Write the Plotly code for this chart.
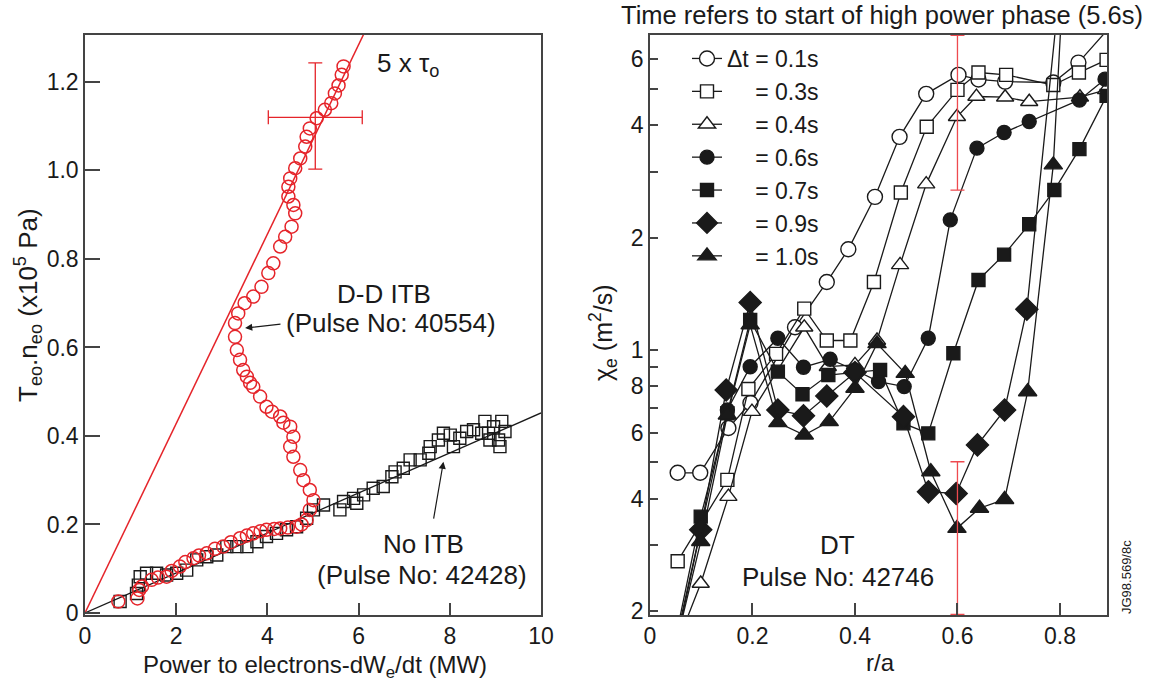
import plotly.graph_objects as go
import numpy as np

# ---------------- Left panel data ----------------
ddi_x = [0.73, 1.15, 1.19, 1.25, 1.46, 1.6, 1.79, 1.9, 2.08, 2.2, 2.38, 2.5, 2.67, 2.85, 3.03, 3.2,
         3.40, 3.55, 3.69, 3.85, 3.98, 4.15, 4.28, 4.45, 4.64, 4.75, 4.86, 4.93, 5.01, 4.93, 4.79,
         4.72, 4.57, 4.50, 4.57, 4.50, 4.35, 4.28, 4.10, 3.98, 3.84, 3.69, 3.62, 3.55, 3.47, 3.40,
         3.33, 3.29, 3.29, 3.36, 3.50, 3.69, 3.87, 4.02, 4.13, 4.28, 4.39, 4.53, 4.61, 4.57, 4.46,
         4.46, 4.50, 4.61, 4.72, 4.83, 4.86, 4.93, 5.08, 5.26, 5.40, 5.48, 5.56, 5.63, 5.67]
ddi_y = [0.026, 0.033, 0.052, 0.060, 0.075, 0.080, 0.082, 0.095, 0.105, 0.115, 0.124, 0.130, 0.135,
         0.145, 0.150, 0.160, 0.169, 0.175, 0.180, 0.185, 0.188, 0.190, 0.191, 0.193, 0.195, 0.200,
         0.210, 0.233, 0.255, 0.278, 0.300, 0.323, 0.353, 0.376, 0.398, 0.421, 0.430, 0.444, 0.455,
         0.466, 0.489, 0.511, 0.520, 0.534, 0.549, 0.572, 0.594, 0.624, 0.655, 0.677, 0.700, 0.715,
         0.737, 0.768, 0.790, 0.828, 0.850, 0.873, 0.903, 0.922, 0.941, 0.963, 0.982, 1.005, 1.027,
         1.054, 1.076, 1.095, 1.118, 1.137, 1.152, 1.174, 1.192, 1.216, 1.235]

noitb_x = [0.77, 1.13, 1.17, 1.21, 1.35, 1.57, 1.79, 2.01, 2.23, 2.45, 2.67, 2.89, 3.11, 3.33, 3.55,
           3.77, 3.98, 4.20, 4.42, 4.64, 4.86, 5.01, 5.23, 5.59, 5.67, 5.89, 5.96, 6.11, 6.32, 6.54,
           6.73, 6.80, 6.98, 7.13, 7.35, 7.54, 7.57, 7.75, 7.86, 8.01, 8.08, 8.22, 8.37, 8.52, 8.70,
           8.77, 8.85, 8.88, 8.96, 9.07, 9.10, 9.14, 9.21]
noitb_y = [0.026, 0.044, 0.063, 0.082, 0.090, 0.090, 0.086, 0.090, 0.097, 0.120, 0.127, 0.131, 0.150,
           0.150, 0.150, 0.161, 0.173, 0.180, 0.188, 0.195, 0.214, 0.233, 0.244, 0.233, 0.252, 0.259,
           0.248, 0.267, 0.282, 0.286, 0.308, 0.319, 0.327, 0.346, 0.346, 0.361, 0.376, 0.391, 0.406,
           0.402, 0.376, 0.395, 0.410, 0.414, 0.406, 0.433, 0.406, 0.391, 0.421, 0.391, 0.376, 0.433,
           0.410]

tau5_slope = 0.214      # 5 x tau_o line
noitb_slope = 0.0452    # No ITB fit line
fit_x = [0, 10]

err_left_x = [5.05]
err_left_y = [1.12]
err_left_dx = [1.03]
err_left_dy_plus = [0.123]
err_left_dy_minus = [0.117]

left_xticks = [0, 2, 4, 6, 8, 10]
left_yticks = [0, 0.2, 0.4, 0.6, 0.8, 1.0, 1.2]
left_yticktext = ["0", "0.2", "0.4", "0.6", "0.8", "1.0", "1.2"]

# ---------------- Right panel data ----------------
r_01 = [0.054, 0.098, 0.153, 0.196, 0.283, 0.345, 0.387, 0.439, 0.487, 0.539, 0.602, 0.641, 0.693, 0.787, 0.836, 0.885]
c_01 = [0.469, 0.469, 0.618, 0.721, 1.15, 1.52, 1.86, 2.57, 3.72, 4.85, 5.45, 5.30, 5.23, 5.20, 5.88, 7.0]

r_03 = [0.054, 0.151, 0.192, 0.246, 0.301, 0.345, 0.391, 0.437, 0.4895, 0.540, 0.600, 0.641, 0.695, 0.787, 0.837, 0.891]
c_03 = [0.272, 0.449, 0.786, 0.976, 1.29, 1.06, 1.06, 1.52, 2.64, 3.96, 4.97, 5.53, 5.45, 5.12, 5.53, 5.98]

r_04 = [0.054, 0.099, 0.153, 0.199, 0.301, 0.347, 0.400, 0.443, 0.488, 0.539, 0.599, 0.637, 0.693, 0.740, 0.839, 0.890]
c_04 = [0.165, 0.237, 0.405, 0.684, 1.15, 0.902, 0.912, 1.06, 1.69, 2.78, 4.21, 4.77, 4.75, 4.62, 4.75, 4.97]

r_06 = [0.054, 0.099, 0.151, 0.1955, 0.2495, 0.2995, 0.3516, 0.400, 0.446, 0.496, 0.543, 0.586, 0.638, 0.691, 0.740, 0.838, 0.888]
c_06 = [0.175, 0.331, 0.691, 0.902, 1.075, 0.899, 0.944, 0.884, 0.823, 0.798, 1.075, 2.23, 3.47, 3.82, 4.09, 4.67, 5.31]

r_07 = [0.054, 0.099, 0.151, 0.1955, 0.2495, 0.2976, 0.348, 0.449, 0.4946, 0.543, 0.592, 0.641, 0.691, 0.740, 0.789, 0.838, 0.891]
c_07 = [0.18, 0.358, 0.677, 1.203, 0.875, 0.761, 0.857, 0.884, 0.636, 0.598, 0.98, 1.54, 1.80, 2.17, 2.68, 3.45, 4.79]

r_09 = [0.054, 0.099, 0.1487, 0.1955, 0.2495, 0.2995, 0.345, 0.400, 0.4946, 0.5434, 0.5975, 0.639, 0.692, 0.7354, 0.80]
c_09 = [0.17, 0.33, 0.781, 1.34, 0.691, 0.667, 0.753, 0.87, 0.663, 0.417, 0.413, 0.557, 0.691, 1.285, 9.5]

r_10 = [0.054, 0.099, 0.151, 0.1955, 0.2495, 0.301, 0.3497, 0.400, 0.443, 0.498, 0.548, 0.599, 0.643, 0.692, 0.737, 0.787, 0.81]
c_10 = [0.17, 0.307, 0.67, 1.167, 0.639, 0.592, 0.643, 0.79, 1.04, 0.866, 0.472, 0.333, 0.377, 0.398, 0.773, 3.13, 12.0]

series_names = ["Δt = 0.1s", "= 0.3s", "= 0.4s", "= 0.6s", "= 0.7s", "= 0.9s", "= 1.0s"]

err_right_x = [0.6, 0.6]
err_right_y = [4.3, 0.333]
err_right_plus = [2.65, 0.169]
err_right_minus = [1.62, 0.137]

right_xticks = [0, 0.2, 0.4, 0.6, 0.8]
right_xticktext = ["0", "0.2", "0.4", "0.6", "0.8"]
right_yticks = [0.2, 0.4, 0.6, 0.8, 1, 2, 4, 6]
right_yticktext = ["2", "4", "6", "8", "1", "2", "4", "6"]
right_yminor = [0.3, 0.5, 0.7, 0.9, 3, 5]

# ---------------- Styling ----------------
FONT = "Liberation Sans, Arial, Helvetica, sans-serif"
RED = "#e5242a"
RED_LIGHT = "#ee4a4f"
INK = "#1a1a1a"
FRAME = "#444444"

fig = go.Figure()

# left panel
lx = np.array(fit_x, dtype=float)
fig.add_trace(go.Scatter(x=lx, y=tau5_slope * lx, mode="lines", line=dict(color=RED, width=1.5),
                         showlegend=False, xaxis="x", yaxis="y", hoverinfo="skip"))
fig.add_trace(go.Scatter(x=lx, y=noitb_slope * lx, mode="lines", line=dict(color=INK, width=1.3),
                         showlegend=False, xaxis="x", yaxis="y", hoverinfo="skip"))
fig.add_trace(go.Scatter(x=noitb_x, y=noitb_y, mode="markers",
                         marker=dict(symbol="square-open", size=12, color=INK, line=dict(width=1.4, color=INK)),
                         showlegend=False, xaxis="x", yaxis="y"))
fig.add_trace(go.Scatter(x=ddi_x, y=ddi_y, mode="markers",
                         marker=dict(symbol="circle-open", size=13, color=RED, line=dict(width=1.5, color=RED)),
                         showlegend=False, xaxis="x", yaxis="y"))
fig.add_trace(go.Scatter(x=err_left_x, y=err_left_y, mode="markers", marker=dict(size=1, color="rgba(0,0,0,0)"),
                         error_x=dict(type="data", array=err_left_dx, color=RED, thickness=1.3, width=7),
                         error_y=dict(type="data", array=err_left_dy_plus, arrayminus=err_left_dy_minus,
                                      color=RED, thickness=1.3, width=7),
                         showlegend=False, xaxis="x", yaxis="y"))

# right panel
series = [
    (r_01, c_01, "circle", "white", 15),
    (r_03, c_03, "square", "white", 13),
    (r_04, c_04, "triangle-up", "white", 15),
    (r_06, c_06, "circle", INK, 14),
    (r_07, c_07, "square", INK, 13),
    (r_09, c_09, "diamond", INK, 17),
    (r_10, c_10, "triangle-up", INK, 16),
]
for (rr, cc, sym, fill, sz), name in zip(series, series_names):
    if name.startswith("="):
        label = '<span style="color:rgba(0,0,0,0)">Δt</span> ' + name
    else:
        label = name
    fig.add_trace(go.Scatter(x=rr, y=cc, mode="lines+markers", name=label,
                             line=dict(color=INK, width=1.3),
                             marker=dict(symbol=sym, size=sz, color=fill, line=dict(color=INK, width=1.4)),
                             xaxis="x2", yaxis="y2"))

fig.add_trace(go.Scatter(x=err_right_x, y=err_right_y, mode="markers", marker=dict(size=1, color="rgba(0,0,0,0)"),
                         error_y=dict(type="data", array=err_right_plus, arrayminus=err_right_minus,
                                      color=RED_LIGHT, thickness=1.3, width=7),
                         showlegend=False, xaxis="x2", yaxis="y2", cliponaxis=False))

W, H = 1152, 685
def px_x(p): return p / W
def px_y(p): return (H - p) / H

tickfont = dict(family=FONT, size=23, color=INK)
common = dict(showgrid=False, zeroline=False, showline=True, linecolor=FRAME, linewidth=1.5, mirror=True,
              ticks="inside", tickcolor=FRAME, tickwidth=1.5, tickfont=tickfont, automargin=False)

fig.update_layout(
    template="none",
    width=W, height=H, margin=dict(l=0, r=0, t=0, b=0, pad=0, autoexpand=False),
    paper_bgcolor="white", plot_bgcolor="white",
    font=dict(family=FONT, size=23, color=INK),
    hovermode=False,
    xaxis=dict(domain=[px_x(85), px_x(541)], range=[0, 10], tickvals=left_xticks, ticklen=12,
               anchor="y", **common),
    yaxis=dict(domain=[px_y(615), px_y(35)], range=[-0.0045, 1.306], tickvals=left_yticks,
               ticktext=left_yticktext, ticklen=15, anchor="x", **common),
    xaxis2=dict(domain=[px_x(650), px_x(1107)], range=[0, 0.8918], tickvals=right_xticks,
                ticktext=right_xticktext, ticklen=12, anchor="y2", **common),
    yaxis2=dict(domain=[px_y(615), px_y(35)], type="log", range=[np.log10(0.1952), np.log10(6.97)],
                tickvals=right_yticks, ticktext=right_yticktext, ticklen=8, anchor="x2",
                minor=dict(tickvals=right_yminor, ticks="inside", ticklen=8, tickcolor=FRAME, tickwidth=1.5),
                **common),
    legend=dict(x=px_x(687), y=px_y(37), xanchor="left", yanchor="top", bgcolor="rgba(0,0,0,0)",
                font=dict(family=FONT, size=23, color=INK), itemwidth=30, tracegroupgap=0, borderwidth=0),
)

ann = []
def A(text, x, y, xref="paper", yref="paper", size=26, **kw):
    d = dict(text=text, x=x, y=y, xref=xref, yref=yref, showarrow=False,
             xanchor="center", yanchor="middle",
             font=dict(family=FONT, size=size, color=INK))
    d.update(kw)
    ann.append(d)

A("Time refers to start of high power phase (5.6s)", px_x(882), px_y(15), size=25.5)
A("Power to electrons-dW<sub>e</sub>/dt (MW)", px_x(315), px_y(666), size=24)
A("r/a", px_x(880), px_y(662), size=24)
A("T<sub>eo</sub>.n<sub>eo</sub> (x10<sup>5</sup> Pa)", px_x(28), px_y(305), size=26, textangle=-90)
A("χ<sub>e</sub> (m<sup>2</sup>/s)", px_x(603), px_y(333), size=25, textangle=-90)
A("5 x τ<sub>o</sub>", 6.35, 1.24, "x", "y", xanchor="left")
A("D-D ITB", 6.55, 0.72, "x", "y")
A("(Pulse No: 40554)", 6.70, 0.655, "x", "y")
A("No ITB", 7.42, 0.155, "x", "y")
A("(Pulse No: 42428)", 7.40, 0.087, "x", "y")
A("DT", 0.365, -0.522, "x2", "y2")
A("Pulse No: 42746", 0.366, -0.608, "x2", "y2")
A("JG98.569/8c", px_x(1126), px_y(577), size=13, textangle=-90)

# arrows
ann.append(dict(x=3.51, y=0.644, ax=4.32, ay=0.653, xref="x", yref="y", axref="x", ayref="y",
                text="", showarrow=True, arrowhead=2, arrowsize=1.2, arrowwidth=1.2, arrowcolor=INK))
ann.append(dict(x=7.86, y=0.342, ax=7.64, ay=0.21, xref="x", yref="y", axref="x", ayref="y",
                text="", showarrow=True, arrowhead=2, arrowsize=1.2, arrowwidth=1.2, arrowcolor=INK))

fig.update_layout(annotations=ann)
fig.write_html("out.html", config={"displayModeBar": False},
               post_script="document.body.style.margin='0px';")
